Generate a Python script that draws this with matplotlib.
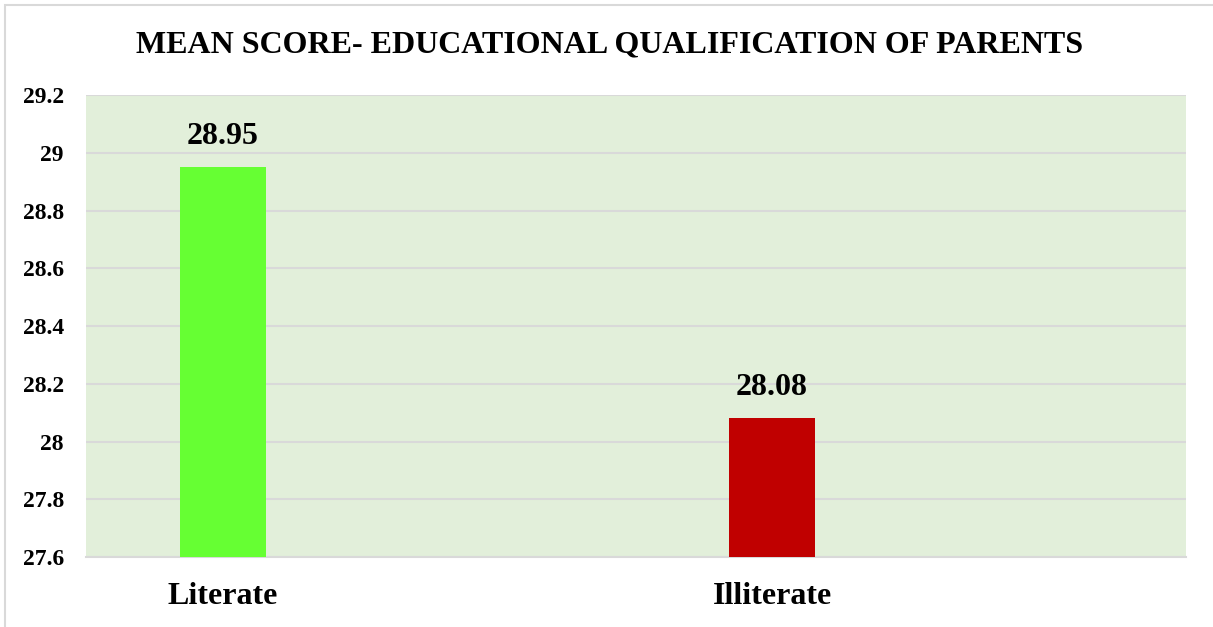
import matplotlib.pyplot as plt
from matplotlib.patches import Rectangle

# Data
categories = ["Literate", "Illiterate"]
mean_scores = [28.95, 28.08]
bar_colors = ["#66FF33", "#C00000"]
y_ticks = [27.6, 27.8, 28.0, 28.2, 28.4, 28.6, 28.8, 29.0, 29.2]
y_tick_labels = ["27.6", "27.8", "28", "28.2", "28.4", "28.6", "28.8", "29", "29.2"]

title = "MEAN SCORE- EDUCATIONAL QUALIFICATION OF PARENTS"

plt.rcParams["font.family"] = ["Liberation Serif", "DejaVu Serif"]
plt.rcParams["font.weight"] = "bold"

W, H = 1213, 627
fig = plt.figure(figsize=(W / 100, H / 100), dpi=100)

# axes box in pixel coordinates (left, top, right, bottom)
l, t, r, b = 86, 95, 1186, 557
ax = fig.add_axes([l / W, 1 - b / H, (r - l) / W, (b - t) / H])
ax.set_facecolor("#E2EFDA")

xs = list(range(len(categories)))
ax.bar(xs, mean_scores, width=0.157, color=bar_colors, zorder=3)

for x, v in zip(xs, mean_scores):
    ax.annotate(f"{v:.2f}", xy=(x, v), xytext=(0, 12),
                textcoords="offset points", ha="center", va="bottom",
                fontsize=23, fontweight="bold")

# gridlines
ax.set_yticks(y_ticks)
ax.set_yticklabels(y_tick_labels, fontsize=17, fontweight="bold")
ax.yaxis.grid(True, color="#D9D9D9", lw=1.5, zorder=0)
ax.set_axisbelow(True)
ax.set_ylim(27.6, 29.2)
ax.set_xlim(-0.2495, 1.754)

ax.set_xticks(xs)
ax.set_xticklabels(categories, fontsize=23, fontweight="bold")
ax.tick_params(axis="x", length=0, pad=18)
ax.tick_params(axis="y", length=0, pad=16)

for side in ["left", "right", "top"]:
    ax.spines[side].set_visible(False)
ax.spines["bottom"].set_color("#D9D9D9")
ax.spines["bottom"].set_linewidth(1.5)

fig.text(610 / W, 1 - 45 / H, title, ha="center", va="center",
         fontsize=23, fontweight="bold")

# thin frame around the chart
fig.patches.append(Rectangle((5 / W, -0.01), 1.1, 1 - 5 / H + 0.01,
                             transform=fig.transFigure, fill=False,
                             edgecolor="#D9D9D9", lw=1.5))

fig.savefig("out.png", dpi=100)
